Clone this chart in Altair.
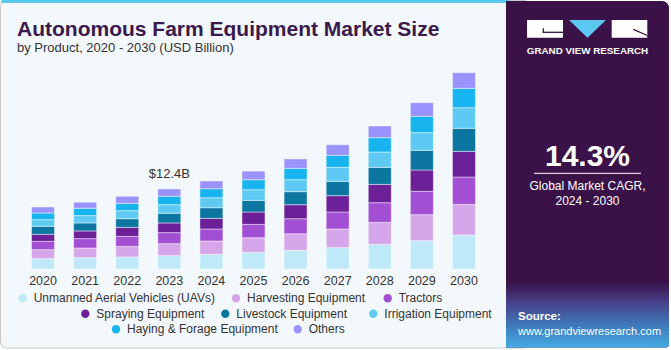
import altair as alt
import pandas as pd

years = ["2020", "2021", "2022", "2023", "2024", "2025", "2026", "2027", "2028", "2029", "2030"]
categories = [
    "Unmanned Aerial Vehicles (UAVs)", "Harvesting Equipment", "Tractors",
    "Spraying Equipment", "Livestock Equipment", "Irrigation Equipment",
    "Haying & Forage Equipment", "Others",
]
uavs = [1.60, 1.76, 1.86, 2.07, 2.27, 2.58, 2.89, 3.31, 3.82, 4.39, 5.27]
harvesting = [1.40, 1.50, 1.65, 1.86, 2.07, 2.27, 2.58, 2.89, 3.41, 4.03, 4.75]
tractors = [1.29, 1.45, 1.55, 1.71, 1.86, 2.07, 2.33, 2.64, 3.05, 3.62, 4.24]
spraying = [1.09, 1.19, 1.40, 1.50, 1.65, 1.91, 2.17, 2.53, 2.84, 3.31, 3.98]
livestock = [1.24, 1.24, 1.34, 1.50, 1.65, 1.81, 2.02, 2.22, 2.64, 3.05, 3.57]
irrigation = [1.03, 1.14, 1.24, 1.34, 1.55, 1.65, 1.86, 2.17, 2.38, 2.74, 3.20]
haying = [1.03, 1.14, 1.14, 1.29, 1.40, 1.55, 1.76, 1.86, 2.22, 2.53, 3.00]
others = [0.93, 0.93, 1.09, 1.14, 1.19, 1.34, 1.45, 1.65, 1.81, 2.12, 2.43]
series = [uavs, harvesting, tractors, spraying, livestock, irrigation, haying, others]
colors = ["#bfe9f9", "#d5a7ea", "#a24fd3", "#6c2098", "#0c76a0", "#5ecaf3", "#17b4ef", "#9b93fd"]
label_year = "2023"

FONT = "Liberation Sans"
OX, OY = 22, 60          # plot origin in canvas pixels
W, H = 463, 209
PX_PER_UNIT = 6.45

rows = []
for ci, (cat, vals) in enumerate(zip(categories, series)):
    for y, v in zip(years, vals):
        rows.append({"year": y, "category": cat, "value": v, "order": ci})
df = pd.DataFrame(rows)
totals = df.groupby("year", as_index=False)["value"].sum()
lab = totals[totals["year"] == label_year].copy()
lab["text"] = lab["value"].map(lambda t: f"${t:.1f}B")

xs = alt.X("year:N", sort=years,
           scale=alt.Scale(paddingInner=0, paddingOuter=0),
           axis=alt.Axis(title=None, labelAngle=0, ticks=False, domain=False, grid=False, zindex=2,
                         labelFont=FONT, labelFontSize=12.5, labelColor="#333333", labelPadding=5))
ys = alt.Y("value:Q", stack="zero", axis=None,
           scale=alt.Scale(domain=[0, H / PX_PER_UNIT], nice=False, zero=True))

one = alt.Data(values=[{"k": 1}])


def rect(x1, y1, x2, y2, **kw):
    return alt.Chart(one).mark_rect(**kw).encode(
        x=alt.value(x1 - OX), x2=alt.value(x2 - OX), y=alt.value(y1 - OY), y2=alt.value(y2 - OY))


def rule(x1, y1, x2, y2, **kw):
    return alt.Chart(one).mark_rule(**kw).encode(
        x=alt.value(x1 - OX), x2=alt.value(x2 - OX), y=alt.value(y1 - OY), y2=alt.value(y2 - OY))


def txt(t, x, y, size, color, bold=False, align="left", baseline="alphabetic"):
    return alt.Chart(one).mark_text(
        text=t, font=FONT, fontSize=size, color=color, fontWeight="bold" if bold else "normal",
        align=align, baseline=baseline).encode(x=alt.value(x - OX), y=alt.value(y - OY))


layers = []
# main panel
layers.append(rect(0.5, 0.5, 530, 348, fill="#f3f8fc", stroke="#c8c8c8", strokeWidth=1, cornerRadius=6))
layers.append(rect(1, 0, 510, 3, fill="#5bc8f0", cornerRadiusTopLeft=5))
# right panel
layers.append(rect(506, 1, 669, 347.5, fill="#3a1248", cornerRadiusTopRight=7, cornerRadiusBottomRight=3))
grad = alt.Gradient(gradient="linear", x1=0, x2=0, y1=0, y2=1, stops=[
    alt.GradientStop(color="#3a1248", offset=0),
    alt.GradientStop(color="#463f86", offset=0.3),
    alt.GradientStop(color="#3f7fc0", offset=0.7),
    alt.GradientStop(color="#45abe2", offset=1),
])
layers.append(rect(506, 282, 669, 347.5, fill=grad, cornerRadiusBottomRight=3))
# logo
layers.append(rect(527, 20, 563, 37.7, fill="#ffffff"))
layers.append(rule(543.3, 32.3, 563, 32.3, color="#3a1248", strokeWidth=1.3))
layers.append(rule(543.3, 28.3, 543.3, 33, color="#3a1248", strokeWidth=1.3))
layers.append(rect(611.7, 20, 647.3, 37.7, fill="#ffffff"))
layers.append(rule(633.3, 29.3, 647.3, 35.5, color="#3a1248", strokeWidth=1.3))
layers.append(alt.Chart(one).mark_point(
    shape="M-1,-0.478L1,-0.478L0,0.478Z", size=37 * 37, filled=True, opacity=1,
    color="#5cc8f2", strokeWidth=0).encode(x=alt.value(587.5 - OX), y=alt.value(28.85 - OY)))
layers.append(txt("GRAND VIEW RESEARCH", 587.5, 50.7, 9.8, "#ffffff", bold=True, align="center", baseline="middle"))
layers.append(txt("14.3%", 587.5, 165.7, 30, "#ffffff", bold=True, align="center"))
layers.append(rule(534, 173.3, 641, 173.3, color="#ffffff", strokeWidth=1))
layers.append(txt("Global Market CAGR,", 587.5, 190, 12, "#ffffff", align="center"))
layers.append(txt("2024 - 2030", 587.5, 205, 12, "#ffffff", align="center"))
layers.append(txt("Source:", 518, 320, 11.5, "#ffffff", bold=True))
layers.append(txt("www.grandviewresearch.com", 518, 334.5, 11, "#ffffff"))
# titles
layers.append(txt("Autonomous Farm Equipment Market Size", 17, 36, 21, "#3a1a4c", bold=True))
layers.append(txt("by Product, 2020 - 2030 (USD Billion)", 17, 51.5, 13, "#333333"))

# bars
bars = alt.Chart(df).mark_bar(size=23, stroke="#ffffff", strokeWidth=0.8, strokeOpacity=0.55).encode(
    x=xs, y=ys,
    color=alt.Color("category:N", scale=alt.Scale(domain=categories, range=colors), legend=None),
    order=alt.Order("order:Q", sort="ascending"),
)
layers.append(bars)
label = alt.Chart(lab).mark_text(font=FONT, fontSize=13, color="#333333", dy=-11, baseline="alphabetic").encode(
    x=alt.X("year:N", sort=years), y=alt.Y("value:Q"), text="text:N")
layers.append(label)

# custom centered legend
legend_layout = [
    (22.7, 298.3), (236.0, 298.3), (387.7, 298.3),
    (85.3, 313.7), (225.3, 313.7), (373.3, 313.7),
    (116.0, 329.3), (297.7, 329.3),
]
for cat, col, (lx, ly) in zip(categories, colors, legend_layout):
    layers.append(alt.Chart(one).mark_circle(size=70, color=col, opacity=1).encode(
        x=alt.value(lx - OX), y=alt.value(ly - OY)))
    layers.append(txt(cat, lx + 11, ly, 12, "#333333", baseline="middle"))

chart = alt.layer(*layers).properties(
    width=W, height=H,
    autosize=alt.AutoSizeParams(type="none"),
    padding={"left": OX, "top": OY, "right": 671 - OX - W, "bottom": 350 - OY - H},
    background="#ffffff",
).configure_view(stroke=None)

chart.save("out.html", embed_options={"renderer": "svg", "actions": False})
